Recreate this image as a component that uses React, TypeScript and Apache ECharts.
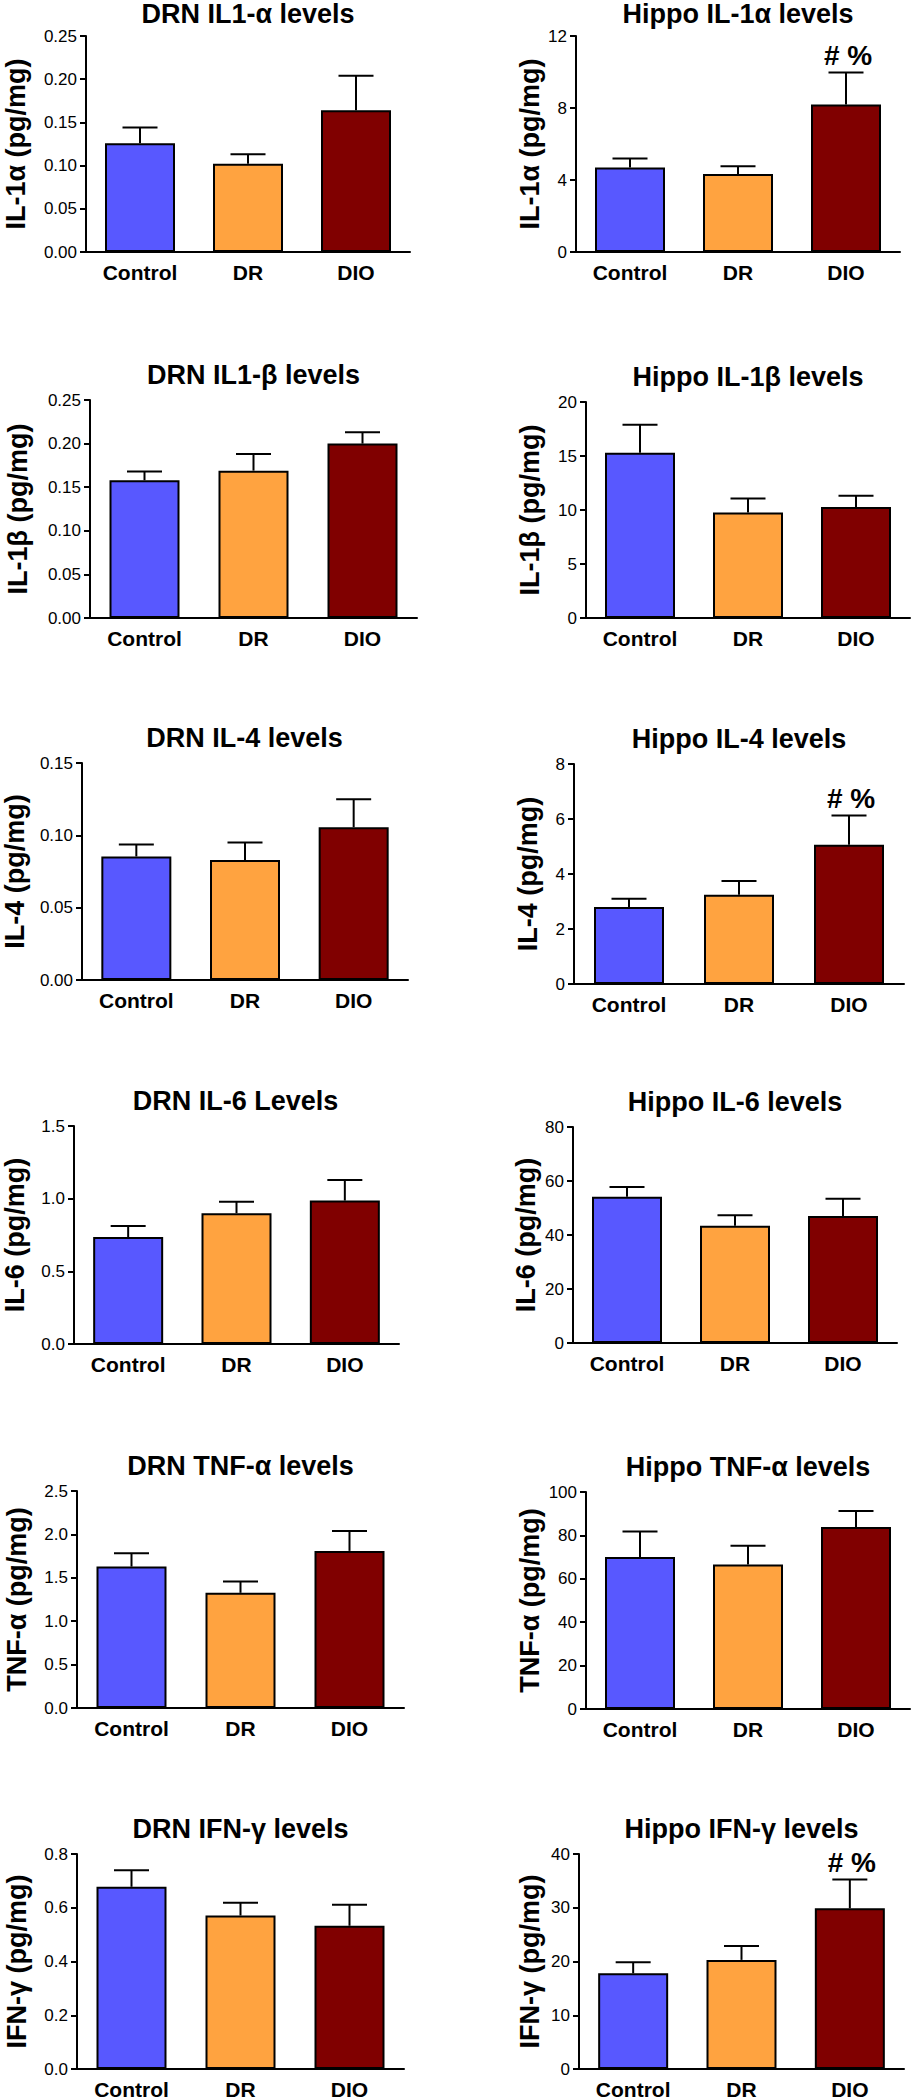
import React, { useEffect, useRef } from "react";
import * as echarts from "echarts";

const FONT = '"Liberation Sans", Arial, Helvetica, sans-serif';

// ---- data ----
const categories = ["Control", "DR", "DIO"];
const barColors = ["#5858FF", "#FFA340", "#800000"];

const drnIl1aMean = [0.126, 0.102, 0.164];
const drnIl1aErr = [0.018, 0.011, 0.040];
const hippoIl1aMean = [4.7, 4.33, 8.19];
const hippoIl1aErr = [0.49, 0.43, 1.78];
const hippoIl1aMarks = ["", "", "# %"];

const drnIl1bMean = [0.158, 0.169, 0.2];
const drnIl1bErr = [0.01, 0.019, 0.013];
const hippoIl1bMean = [15.3, 9.78, 10.28];
const hippoIl1bErr = [2.6, 1.29, 1.04];

const drnIl4Mean = [0.0854, 0.083, 0.1056];
const drnIl4Err = [0.0083, 0.012, 0.0193];
const hippoIl4Mean = [2.8, 3.25, 5.06];
const hippoIl4Err = [0.3, 0.5, 1.07];
const hippoIl4Marks = ["", "", "# %"];

const drnIl6Mean = [0.736, 0.9, 0.987];
const drnIl6Err = [0.076, 0.078, 0.141];
const hippoIl6Mean = [54.2, 43.4, 47.0];
const hippoIl6Err = [3.6, 3.9, 6.4];

const drnTnfMean = [1.629, 1.327, 1.81];
const drnTnfErr = [0.155, 0.13, 0.23];
const hippoTnfMean = [70.0, 66.6, 83.9];
const hippoTnfErr = [11.8, 8.6, 7.4];

const drnIfnMean = [0.678, 0.571, 0.533];
const drnIfnErr = [0.062, 0.048, 0.078];
const hippoIfnMean = [17.8, 20.3, 29.9];
const hippoIfnErr = [2.05, 2.6, 5.35];
const hippoIfnMarks = ["", "", "# %"];

const titles = [
  "DRN IL1-α levels", "Hippo IL-1α levels",
  "DRN IL1-β levels", "Hippo IL-1β levels",
  "DRN IL-4 levels", "Hippo IL-4 levels",
  "DRN IL-6 Levels", "Hippo IL-6 levels",
  "DRN TNF-α levels", "Hippo TNF-α levels",
  "DRN IFN-γ levels", "Hippo IFN-γ levels",
];
const yNames = [
  "IL-1α (pg/mg)", "IL-1α (pg/mg)",
  "IL-1β (pg/mg)", "IL-1β (pg/mg)",
  "IL-4 (pg/mg)", "IL-4 (pg/mg)",
  "IL-6 (pg/mg)", "IL-6 (pg/mg)",
  "TNF-α (pg/mg)", "TNF-α (pg/mg)",
  "IFN-γ (pg/mg)", "IFN-γ (pg/mg)",
];
const yMax = [0.25, 12, 0.25, 20, 0.15, 8, 1.5, 80, 2.5, 100, 0.8, 40];
const yInterval = [0.05, 4, 0.05, 5, 0.05, 2, 0.5, 20, 0.5, 20, 0.2, 10];
const yDecimals = [2, 0, 2, 0, 2, 0, 1, 0, 1, 0, 1, 0];

const means = [
  drnIl1aMean, hippoIl1aMean, drnIl1bMean, hippoIl1bMean,
  drnIl4Mean, hippoIl4Mean, drnIl6Mean, hippoIl6Mean,
  drnTnfMean, hippoTnfMean, drnIfnMean, hippoIfnMean,
];
const errs = [
  drnIl1aErr, hippoIl1aErr, drnIl1bErr, hippoIl1bErr,
  drnIl4Err, hippoIl4Err, drnIl6Err, hippoIl6Err,
  drnTnfErr, hippoTnfErr, drnIfnErr, hippoIfnErr,
];
const marks = [
  null, hippoIl1aMarks, null, null,
  null, hippoIl4Marks, null, null,
  null, null, null, hippoIfnMarks,
];

// ---- layout (pixels): axis left x, axis right x, plot top, plot bottom, name gap ----
const layout = [
  { l: 86, r: 410, t: 36, b: 252, gap: 57 },
  { l: 576, r: 900, t: 36, b: 252, gap: 33 },
  { l: 90, r: 417, t: 400, b: 618, gap: 59 },
  { l: 586, r: 910, t: 402, b: 618, gap: 43 },
  { l: 81, r: 408, t: 763, b: 980, gap: 54 },
  { l: 574, r: 904, t: 764, b: 984, gap: 33 },
  { l: 72, r: 399, t: 1126, b: 1344, gap: 46 },
  { l: 573, r: 897, t: 1127, b: 1343, gap: 34 },
  { l: 77, r: 404, t: 1491, b: 1708, gap: 47 },
  { l: 586, r: 910, t: 1492, b: 1709, gap: 43 },
  { l: 77, r: 404, t: 1854, b: 2072, gap: 47 },
  { l: 579, r: 904, t: 1854, b: 2071, gap: 36 },
];

function buildOption() {
  const grid: any[] = [];
  const xAxis: any[] = [];
  const yAxis: any[] = [];
  const series: any[] = [];
  const title: any[] = [];

  layout.forEach((p, i) => {
    grid.push({ left: p.l, top: p.t, width: p.r - p.l, height: p.b - p.t, containLabel: false });
    title.push({
      text: titles[i],
      left: (p.l + p.r) / 2,
      top: Math.max(0, p.t - 39),
      textAlign: "center",
      padding: 0,
      textStyle: { fontFamily: FONT, fontSize: 27, fontWeight: "bold", color: "#000" },
    });
    xAxis.push({
      type: "category",
      gridIndex: i,
      data: categories,
      axisLine: { show: true, lineStyle: { color: "#000", width: 2 } },
      axisTick: { show: false },
      axisLabel: { fontFamily: FONT, fontSize: 21, fontWeight: "bold", color: "#000", margin: 10 },
      splitLine: { show: false },
    });
    const dec = yDecimals[i];
    yAxis.push({
      type: "value",
      gridIndex: i,
      min: 0,
      max: yMax[i],
      interval: yInterval[i],
      name: yNames[i],
      nameLocation: "middle",
      nameRotate: 90,
      nameGap: p.gap,
      nameTextStyle: { fontFamily: FONT, fontSize: 27, fontWeight: "bold", color: "#000" },
      axisLine: { show: true, lineStyle: { color: "#000", width: 2 } },
      axisTick: { show: true, inside: false, length: 6, lineStyle: { color: "#000", width: 2 } },
      axisLabel: {
        fontFamily: FONT,
        fontSize: 17,
        color: "#000",
        margin: 9,
        formatter: (v: number) => v.toFixed(dec),
      },
      splitLine: { show: false },
    });
    series.push({
      type: "bar",
      xAxisIndex: i,
      yAxisIndex: i,
      barWidth: 70,
      data: means[i].map((v, j) => ({ value: v, itemStyle: { color: barColors[j] } })),
      itemStyle: { borderColor: "#000", borderWidth: 2 },
      z: 2,
    });
    const mk = marks[i];
    series.push({
      type: "custom",
      xAxisIndex: i,
      yAxisIndex: i,
      z: 3,
      data: means[i].map((v, j) => [j, v, errs[i][j]]),
      encode: { x: 0, y: 1 },
      renderItem: (params: any, api: any) => {
        const x = api.value(0);
        const m = api.value(1);
        const e = api.value(2);
        const base = api.coord([x, m]);
        const top = api.coord([x, m + e]);
        const cap = 17.5;
        const children: any[] = [
          {
            type: "line",
            shape: { x1: base[0], y1: base[1], x2: top[0], y2: top[1] },
            style: { stroke: "#000", lineWidth: 2 },
          },
          {
            type: "line",
            shape: { x1: top[0] - cap, y1: top[1], x2: top[0] + cap, y2: top[1] },
            style: { stroke: "#000", lineWidth: 2 },
          },
        ];
        const label = mk ? mk[params.dataIndex] : "";
        if (label) {
          children.push({
            type: "text",
            x: top[0] + 2,
            y: top[1] - 17,
            style: {
              text: label,
              font: `bold 28px ${FONT}`,
              fill: "#000",
              align: "center",
              verticalAlign: "middle",
              textAlign: "center",
              textVerticalAlign: "middle",
            },
          });
        }
        return { type: "group", children };
      },
    });
  });

  return {
    animation: false,
    backgroundColor: "#fff",
    textStyle: { fontFamily: FONT },
    title,
    grid,
    xAxis,
    yAxis,
    series,
  };
}

export default function App() {
  const ref = useRef<HTMLDivElement>(null);
  useEffect(() => {
    if (!ref.current) return;
    const chart = echarts.init(ref.current, null, { renderer: "svg" });
    chart.setOption(buildOption() as any);
    return () => chart.dispose();
  }, []);
  return (
    <div
      ref={ref}
      style={{ position: "absolute", left: 0, top: 0, width: 911, height: 2100, background: "#fff" }}
    />
  );
}
